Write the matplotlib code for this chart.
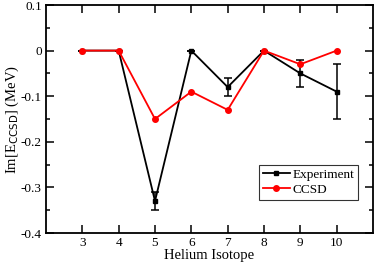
import matplotlib.pyplot as plt
import numpy as np

plt.rcParams["font.family"] = "Liberation Serif"

isotope = [3, 4, 5, 6, 7, 8, 9, 10]
exp_val = [0.0, 0.0, -0.33, 0.0, -0.08, 0.0, -0.05, -0.09]
exp_err = [0.0, 0.0, 0.02, 0.0, 0.02, 0.0, 0.03, 0.06]
ccsd_val = [0.0, 0.0, -0.15, -0.09, -0.13, 0.0, -0.03, 0.0]

fig = plt.figure(figsize=(3.74, 2.65), dpi=100)
ax = fig.add_axes([46/374, 1 - 233/265, 327/374, 228/265])

ax.errorbar(isotope, exp_val, yerr=exp_err, fmt="none", ecolor="black",
            capsize=3, elinewidth=1.1, capthick=1.1, zorder=2)
ax.plot(isotope, exp_val, color="black", marker="s", ms=3.5, lw=1.3,
        label="Experiment", zorder=2)
ax.plot(isotope, ccsd_val, color="red", marker="o", ms=4, lw=1.3,
        label="CCSD", zorder=3)

ax.set_xlim(2, 11)
ax.set_ylim(-0.4, 0.1)
ax.set_xticks(isotope)
ax.set_yticks([-0.4, -0.3, -0.2, -0.1, 0, 0.1])
ax.set_yticklabels(["-0.4", "-0.3", "-0.2", "-0.1", "0", "0.1"])
ax.set_yticks(np.arange(-0.35, 0.1, 0.1), minor=True)
ax.tick_params(direction="in", top=True, right=True, labelsize=9.5, length=6,
               width=1.1, pad=3)
ax.tick_params(which="minor", direction="in", right=True, length=3, width=1.1)
for s in ax.spines.values():
    s.set_linewidth(1.3)

ax.set_xlabel("Helium Isotope", fontsize=10.5)
ax.set_ylabel(r"Im[E$_{\mathrm{CCSD}}$] (MeV)", fontsize=10.5)
ax.yaxis.set_label_coords(-25/327, 0.5)
ax.xaxis.set_label_coords(0.5, -16/228)

leg = ax.legend(loc="lower right", bbox_to_anchor=(0.954, 0.145), fontsize=9.5,
                frameon=True, fancybox=False, edgecolor="black", handlelength=2.0,
                borderpad=0.3, labelspacing=0.2, handletextpad=0.2,
                borderaxespad=0)
leg.get_frame().set_linewidth(0.8)

fig.savefig("out.png", dpi=100)
